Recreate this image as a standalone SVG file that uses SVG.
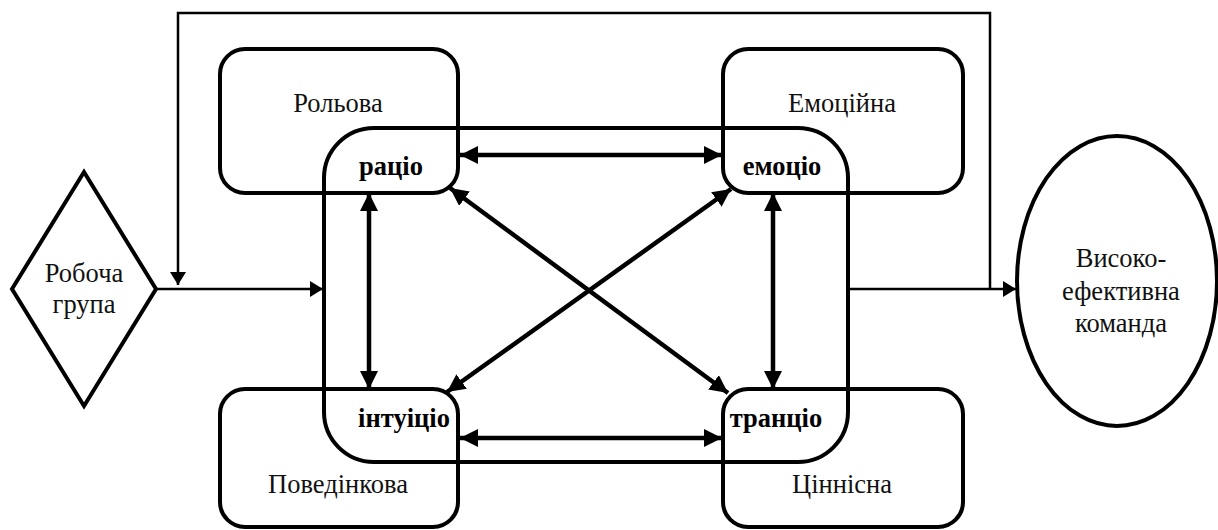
<svg xmlns="http://www.w3.org/2000/svg" width="1218" height="530" viewBox="0 0 1218 530">
  <style>
    .shape { fill: none; stroke: #000; stroke-width: 4; }
    .lbl { font-family: "Liberation Serif", "Tinos", "DejaVu Serif", "Times New Roman", serif; font-size: 26.5px; fill: #111; text-anchor: middle; }
    .key { font-family: "Liberation Serif", "Tinos", "DejaVu Serif", "Times New Roman", serif; font-size: 26.5px; font-weight: bold; fill: #000; text-anchor: middle; }
    .thin { fill: none; stroke: #000; stroke-width: 2.5; }
    .thick { fill: none; stroke: #000; stroke-width: 4.5; }
  </style>
  <defs>
    <marker id="headThin" markerUnits="userSpaceOnUse" markerWidth="14" markerHeight="16" refX="13" refY="8" orient="auto">
      <path d="M0,0 L13,8 L0,16 z" fill="#000"/>
    </marker>
    <marker id="headThick" markerUnits="userSpaceOnUse" markerWidth="20" markerHeight="18" refX="18" refY="9" orient="auto-start-reverse">
      <path d="M0,0 L18,9 L0,18 z" fill="#000"/>
    </marker>
  </defs>

  <rect width="1218" height="530" fill="#fff"/>

  <!-- outer nodes -->
  <g id="robocha-hrupa">
    <polygon class="shape" points="12,289 84,172 156,289 84,406"/>
    <text class="lbl" x="84" y="282">Робоча</text>
    <text class="lbl" x="84" y="313">група</text>
  </g>
  <g id="vysokoefektyvna-komanda">
    <ellipse class="shape" cx="1117" cy="281" rx="100" ry="145"/>
    <text class="lbl" x="1121" y="267">Високо-</text>
    <text class="lbl" x="1121" y="300">ефективна</text>
    <text class="lbl" x="1121" y="332">команда</text>
  </g>

  <!-- four quadrant boxes -->
  <g id="rolova">
    <rect class="shape" x="220" y="49" width="238" height="144" rx="25"/>
    <text class="lbl" x="338" y="112">Рольова</text>
  </g>
  <g id="emotsiina">
    <rect class="shape" x="723" y="49" width="240" height="144" rx="25"/>
    <text class="lbl" x="842" y="112">Емоційна</text>
  </g>
  <g id="povedinkova">
    <rect class="shape" x="220" y="389" width="238" height="138" rx="25"/>
    <text class="lbl" x="338" y="493">Поведінкова</text>
  </g>
  <g id="tsinnisna">
    <rect class="shape" x="723" y="389" width="240" height="138" rx="25"/>
    <text class="lbl" x="842" y="493">Ціннісна</text>
  </g>

  <!-- central frame with the four modes -->
  <g id="core">
    <rect class="shape" x="324" y="128" width="524" height="334" rx="50"/>
  </g>
  <g id="ratsio"><text class="key" x="391" y="175">раціо</text></g>
  <g id="emotsio"><text class="key" x="782" y="175">емоціо</text></g>
  <g id="intuitsio"><text class="key" x="404" y="427">інтуіціо</text></g>
  <g id="trantsio"><text class="key" x="776" y="427">транціо</text></g>

  <g id="connectors">
    <!-- flow: group -> core -> team -->
    <line class="thin" x1="156" y1="289" x2="323" y2="289" marker-end="url(#headThin)"/>
    <line class="thin" x1="848" y1="289" x2="1016" y2="289" marker-end="url(#headThin)"/>
    <!-- feedback loop -->
    <polyline class="thin" points="990,289 990,13 178,13 178,285" marker-end="url(#headThin)"/>
    <!-- links between modes -->
    <line class="thick" x1="460" y1="155" x2="722" y2="155" marker-start="url(#headThick)" marker-end="url(#headThick)"/>
    <line class="thick" x1="460" y1="438" x2="722" y2="438" marker-start="url(#headThick)" marker-end="url(#headThick)"/>
    <line class="thick" x1="369" y1="193" x2="369" y2="389" marker-start="url(#headThick)" marker-end="url(#headThick)"/>
    <line class="thick" x1="773" y1="193" x2="773" y2="389" marker-start="url(#headThick)" marker-end="url(#headThick)"/>
    <line class="thick" x1="450" y1="188" x2="728" y2="393" marker-start="url(#headThick)" marker-end="url(#headThick)"/>
    <line class="thick" x1="731" y1="189" x2="447" y2="392" marker-start="url(#headThick)" marker-end="url(#headThick)"/>
  </g>
</svg>
